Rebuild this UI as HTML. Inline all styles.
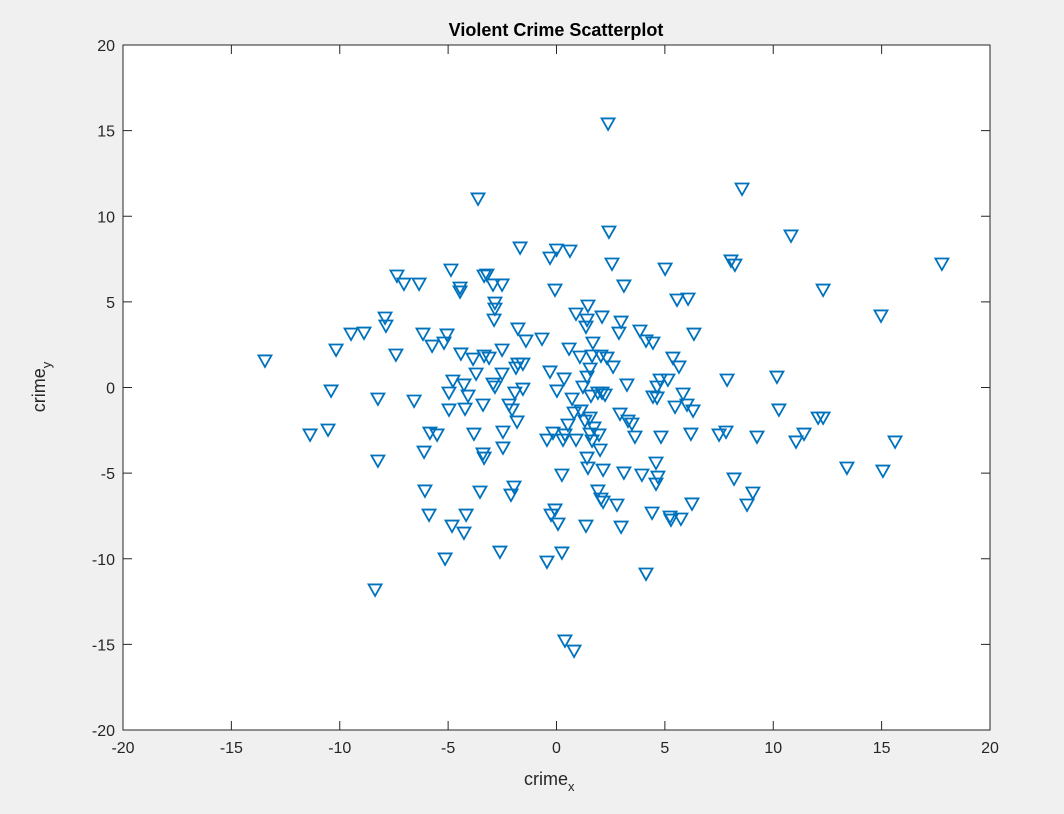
<!DOCTYPE html>
<html><head><meta charset="utf-8"><style>
html,body{margin:0;padding:0;background:#f0f0f0;}
svg{display:block;font-family:"Liberation Sans",sans-serif;}
</style></head><body>
<svg id="chart" width="1064" height="814">
<rect x="0" y="0" width="1064" height="814" fill="#f0f0f0"/>
<rect x="123" y="45" width="867" height="685" fill="#fff"/>
<g id="ticks"></g>
<g id="marks"></g>
<rect x="123" y="45" width="867" height="685" fill="none" stroke="#262626" stroke-width="1"/>
<text x="556" y="36" text-anchor="middle" font-size="18" font-weight="bold" fill="#000">Violent Crime Scatterplot</text>
<text x="524" y="785" font-size="18" fill="#262626">crime<tspan font-size="13" dy="6">x</tspan></text>
<text transform="translate(45,387) rotate(-90)" text-anchor="middle" font-size="18" fill="#262626">crime<tspan font-size="13" dy="6">y</tspan></text>
</svg>
<script>
const xTicks=[-20,-15,-10,-5,0,5,10,15,20];
const yTicks=[-20,-15,-10,-5,0,5,10,15,20];
const xs=[2.38,8.56,-3.62,10.82,2.42,-1.68,0,0.62,-0.30,2.56,5.01,8.05,8.23,17.78,-7.36,-4.87,-3.21,-3.34,-7.04,-6.34,-2.93,-2.51,-4.45,-4.45,-0.07,3.11,12.30,5.56,6.07,-2.84,-2.84,1.45,0.90,2.10,14.97,-7.91,-7.87,-2.88,1.41,2.98,1.36,-8.88,-9.48,-6.16,-5.05,-1.78,-0.67,2.88,3.85,6.34,-1.41,4.13,4.45,-5.19,-5.74,1.68,0.58,-10.17,-2.51,-7.41,-4.41,-3.34,-3.11,-3.85,1.08,1.64,2.05,2.33,5.37,-13.45,-1.78,-1.55,-1.87,1.55,2.61,5.65,-3.71,-2.51,-0.30,1.41,0.35,4.78,5.14,7.87,10.17,-4.78,-2.93,-4.27,3.25,-1.55,-2.84,1.22,4.64,-10.40,-4.96,-4.08,-1.92,0.02,1.91,2.10,2.24,1.59,5.84,4.45,4.64,-8.24,-6.57,0.72,-2.19,-3.39,-4.22,-4.96,-2.05,1.13,5.47,6.02,6.30,10.26,2.93,0.81,1.55,1.31,3.30,3.48,-1.82,12.07,12.30,0.53,1.73,-2.47,-3.81,-11.37,-10.54,-5.84,-5.51,-0.16,0.39,1.55,1.96,3.62,4.82,6.20,7.50,7.82,9.25,11.42,11.05,15.62,-0.44,0.30,0.90,1.64,2.01,-2.47,-3.39,-3.34,-6.11,-8.24,1.41,1.45,2.15,4.59,4.68,3.11,3.94,4.59,13.40,15.06,8.19,0.25,-1.96,-2.10,-6.07,-3.53,1.91,2.05,2.15,2.79,6.25,9.06,8.79,-5.88,-4.17,-0.07,-0.25,0.07,4.41,5.24,5.28,5.74,-4.82,1.36,2.98,-4.27,-2.61,-5.14,-0.44,0.25,4.13,-8.37,0.39,0.81];
const ys=[15.39,11.59,11.01,8.85,9.08,8.15,8.03,7.97,7.56,7.21,6.92,7.39,7.15,7.21,6.51,6.86,6.57,6.51,6.04,6.04,5.99,5.99,5.81,5.58,5.69,5.93,5.69,5.11,5.17,4.93,4.58,4.76,4.29,4.12,4.18,4.06,3.59,3.94,3.94,3.82,3.53,3.18,3.12,3.12,3.07,3.42,2.83,3.18,3.30,3.12,2.72,2.72,2.60,2.60,2.42,2.60,2.25,2.19,2.19,1.90,1.96,1.84,1.72,1.66,1.78,1.84,1.84,1.72,1.72,1.55,1.37,1.37,1.14,1.08,1.20,1.20,0.79,0.79,0.91,0.61,0.50,0.44,0.44,0.44,0.61,0.38,0.20,0.15,0.15,-0.09,0.03,0.03,0.03,-0.20,-0.32,-0.50,-0.32,-0.20,-0.32,-0.32,-0.44,-0.50,-0.38,-0.55,-0.61,-0.67,-0.79,-0.67,-1.02,-1.02,-1.26,-1.31,-1.31,-1.37,-1.14,-1.02,-1.37,-1.31,-1.55,-1.49,-1.78,-1.96,-1.96,-2.13,-2.01,-1.78,-1.78,-2.19,-2.36,-2.60,-2.72,-2.77,-2.48,-2.66,-2.77,-2.66,-2.77,-2.72,-2.77,-2.89,-2.89,-2.72,-2.77,-2.60,-2.89,-2.72,-3.18,-3.18,-3.07,-3.07,-3.07,-3.12,-3.65,-3.53,-3.88,-4.12,-3.77,-4.29,-4.12,-4.70,-4.82,-4.41,-5.23,-4.99,-5.11,-5.64,-4.70,-4.88,-5.34,-5.11,-5.81,-6.28,-6.04,-6.10,-6.04,-6.51,-6.69,-6.86,-6.80,-6.16,-6.86,-7.45,-7.45,-7.15,-7.45,-7.97,-7.33,-7.56,-7.74,-7.68,-8.09,-8.09,-8.15,-8.50,-9.61,-10.01,-10.19,-9.66,-10.89,-11.82,-14.80,-15.39];
const NS="http://www.w3.org/2000/svg";
const L=123,R=990,T=45,B=730;
function sx(v){return L+(v+20)/40*(R-L);}
function sy(v){return B-(v+20)/40*(B-T);}
const tg=document.getElementById('ticks');
xTicks.forEach(t=>{
  const x=sx(t);
  const ln=document.createElementNS(NS,'path');
  ln.setAttribute('d',`M${x},${B}V${B-9}M${x},${T}V${T+9}`);
  ln.setAttribute('stroke','#262626');
  
  
  tg.appendChild(ln);
  const tx=document.createElementNS(NS,'text');
  tx.setAttribute('x',x);tx.setAttribute('y',B+23);
  tx.setAttribute('text-anchor','middle');tx.setAttribute('font-size','16');tx.setAttribute('fill','#262626');
  tx.textContent=t;
  
  
  tg.appendChild(tx);
});
yTicks.forEach(t=>{
  const y=sy(t);
  const ln=document.createElementNS(NS,'path');
  ln.setAttribute('d',`M${L},${y}H${L+9}M${R},${y}H${R-9}`);
  ln.setAttribute('stroke','#262626');
  
  
  tg.appendChild(ln);
  const tx=document.createElementNS(NS,'text');
  tx.setAttribute('x',L-8);tx.setAttribute('y',y+6);
  tx.setAttribute('text-anchor','end');tx.setAttribute('font-size','16');tx.setAttribute('fill','#262626');
  tx.textContent=t;
  
  
  tg.appendChild(tx);
});
const mg=document.getElementById('marks');
xs.forEach((v,i)=>{
  const cx=sx(v),cy=sy(ys[i]);
  const p=document.createElementNS(NS,'path');
  p.setAttribute('d',`M${cx-6.5},${cy-5.5}H${cx+6.5}L${cx},${cy+6}Z`);
  p.setAttribute('fill','none');p.setAttribute('stroke','#0072BD');p.setAttribute('stroke-width','1.8');
  
  
  mg.appendChild(p);
});
</script>
</body></html>
